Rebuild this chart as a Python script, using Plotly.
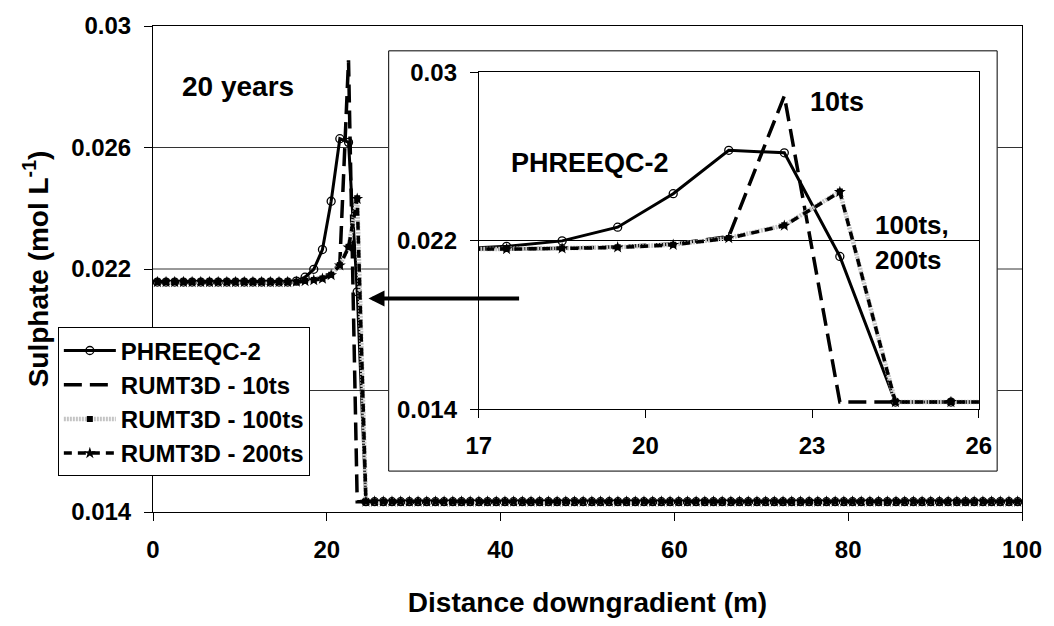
import plotly.graph_objects as go

# ---------------- data ----------------
distance = [
    0.5, 1.5, 2.5, 3.5, 4.5, 5.5, 6.5, 7.5, 8.5, 9.5,
    10.5, 11.5, 12.5, 13.5, 14.5, 15.5, 16.5, 17.5, 18.5, 19.5,
    20.5, 21.5, 22.5, 23.5, 24.5, 25.5, 26.5, 27.5, 28.5, 29.5,
    30.5, 31.5, 32.5, 33.5, 34.5, 35.5, 36.5, 37.5, 38.5, 39.5,
    40.5, 41.5, 42.5, 43.5, 44.5, 45.5, 46.5, 47.5, 48.5, 49.5,
    50.5, 51.5, 52.5, 53.5, 54.5, 55.5, 56.5, 57.5, 58.5, 59.5,
    60.5, 61.5, 62.5, 63.5, 64.5, 65.5, 66.5, 67.5, 68.5, 69.5,
    70.5, 71.5, 72.5, 73.5, 74.5, 75.5, 76.5, 77.5, 78.5, 79.5,
    80.5, 81.5, 82.5, 83.5, 84.5, 85.5, 86.5, 87.5, 88.5, 89.5,
    90.5, 91.5, 92.5, 93.5, 94.5, 95.5, 96.5, 97.5, 98.5, 99.5,
]

phreeqc_2 = [
    0.02157, 0.02157, 0.02157, 0.02157, 0.02157, 0.02157, 0.02157, 0.02157, 0.02157, 0.02157,
    0.02157, 0.02157, 0.02157, 0.02157, 0.02157, 0.02157, 0.02160, 0.02173, 0.02199, 0.02264,
    0.02423, 0.02629, 0.02617, 0.02125, 0.01434, 0.01434, 0.01434, 0.01434, 0.01434, 0.01434,
    0.01434, 0.01434, 0.01434, 0.01434, 0.01434, 0.01434, 0.01434, 0.01434, 0.01434, 0.01434,
    0.01434, 0.01434, 0.01434, 0.01434, 0.01434, 0.01434, 0.01434, 0.01434, 0.01434, 0.01434,
    0.01434, 0.01434, 0.01434, 0.01434, 0.01434, 0.01434, 0.01434, 0.01434, 0.01434, 0.01434,
    0.01434, 0.01434, 0.01434, 0.01434, 0.01434, 0.01434, 0.01434, 0.01434, 0.01434, 0.01434,
    0.01434, 0.01434, 0.01434, 0.01434, 0.01434, 0.01434, 0.01434, 0.01434, 0.01434, 0.01434,
    0.01434, 0.01434, 0.01434, 0.01434, 0.01434, 0.01434, 0.01434, 0.01434, 0.01434, 0.01434,
    0.01434, 0.01434, 0.01434, 0.01434, 0.01434, 0.01434, 0.01434, 0.01434, 0.01434, 0.01434,
]

rumt3d_10ts = [
    0.02157, 0.02157, 0.02157, 0.02157, 0.02157, 0.02157, 0.02157, 0.02157, 0.02157, 0.02157,
    0.02157, 0.02157, 0.02157, 0.02157, 0.02157, 0.02157, 0.02158, 0.02160, 0.02164, 0.02171,
    0.02184, 0.02219, 0.02887, 0.01434, 0.01434, 0.01434, 0.01434, 0.01434, 0.01434, 0.01434,
    0.01434, 0.01434, 0.01434, 0.01434, 0.01434, 0.01434, 0.01434, 0.01434, 0.01434, 0.01434,
    0.01434, 0.01434, 0.01434, 0.01434, 0.01434, 0.01434, 0.01434, 0.01434, 0.01434, 0.01434,
    0.01434, 0.01434, 0.01434, 0.01434, 0.01434, 0.01434, 0.01434, 0.01434, 0.01434, 0.01434,
    0.01434, 0.01434, 0.01434, 0.01434, 0.01434, 0.01434, 0.01434, 0.01434, 0.01434, 0.01434,
    0.01434, 0.01434, 0.01434, 0.01434, 0.01434, 0.01434, 0.01434, 0.01434, 0.01434, 0.01434,
    0.01434, 0.01434, 0.01434, 0.01434, 0.01434, 0.01434, 0.01434, 0.01434, 0.01434, 0.01434,
    0.01434, 0.01434, 0.01434, 0.01434, 0.01434, 0.01434, 0.01434, 0.01434, 0.01434, 0.01434,
]

rumt3d_100ts = [
    0.02157, 0.02157, 0.02157, 0.02157, 0.02157, 0.02157, 0.02157, 0.02157, 0.02157, 0.02157,
    0.02157, 0.02157, 0.02157, 0.02157, 0.02157, 0.02157, 0.02158, 0.02161, 0.02164, 0.02169,
    0.02181, 0.02213, 0.02273, 0.02433, 0.01434, 0.01434, 0.01434, 0.01434, 0.01434, 0.01434,
    0.01434, 0.01434, 0.01434, 0.01434, 0.01434, 0.01434, 0.01434, 0.01434, 0.01434, 0.01434,
    0.01434, 0.01434, 0.01434, 0.01434, 0.01434, 0.01434, 0.01434, 0.01434, 0.01434, 0.01434,
    0.01434, 0.01434, 0.01434, 0.01434, 0.01434, 0.01434, 0.01434, 0.01434, 0.01434, 0.01434,
    0.01434, 0.01434, 0.01434, 0.01434, 0.01434, 0.01434, 0.01434, 0.01434, 0.01434, 0.01434,
    0.01434, 0.01434, 0.01434, 0.01434, 0.01434, 0.01434, 0.01434, 0.01434, 0.01434, 0.01434,
    0.01434, 0.01434, 0.01434, 0.01434, 0.01434, 0.01434, 0.01434, 0.01434, 0.01434, 0.01434,
    0.01434, 0.01434, 0.01434, 0.01434, 0.01434, 0.01434, 0.01434, 0.01434, 0.01434, 0.01434,
]

rumt3d_200ts = [
    0.02157, 0.02157, 0.02157, 0.02157, 0.02157, 0.02157, 0.02157, 0.02157, 0.02157, 0.02157,
    0.02157, 0.02157, 0.02157, 0.02157, 0.02157, 0.02157, 0.02158, 0.02160, 0.02163, 0.02168,
    0.02180, 0.02212, 0.02271, 0.02431, 0.01434, 0.01434, 0.01434, 0.01434, 0.01434, 0.01434,
    0.01434, 0.01434, 0.01434, 0.01434, 0.01434, 0.01434, 0.01434, 0.01434, 0.01434, 0.01434,
    0.01434, 0.01434, 0.01434, 0.01434, 0.01434, 0.01434, 0.01434, 0.01434, 0.01434, 0.01434,
    0.01434, 0.01434, 0.01434, 0.01434, 0.01434, 0.01434, 0.01434, 0.01434, 0.01434, 0.01434,
    0.01434, 0.01434, 0.01434, 0.01434, 0.01434, 0.01434, 0.01434, 0.01434, 0.01434, 0.01434,
    0.01434, 0.01434, 0.01434, 0.01434, 0.01434, 0.01434, 0.01434, 0.01434, 0.01434, 0.01434,
    0.01434, 0.01434, 0.01434, 0.01434, 0.01434, 0.01434, 0.01434, 0.01434, 0.01434, 0.01434,
    0.01434, 0.01434, 0.01434, 0.01434, 0.01434, 0.01434, 0.01434, 0.01434, 0.01434, 0.01434,
]

series_names = ["PHREEQC-2", "RUMT3D - 10ts", "RUMT3D - 100ts", "RUMT3D - 200ts"]

main_x_ticks = [0, 20, 40, 60, 80, 100]
main_y_ticks = [0.014, 0.022, 0.026, 0.03]          # 0.018 label sits under the legend
main_grid_values = [0.018, 0.022, 0.026]
inset_x_ticks = [17, 20, 23, 26]
inset_y_ticks = [0.014, 0.022, 0.03]

# ---------------- styling ----------------
FONT = "Liberation Sans, Arial, Helvetica, sans-serif"
styles = [
    dict(line=dict(color="black", width=3),
         marker=dict(symbol="circle-open", size=8, color="black", line=dict(width=1.3, color="black"))),
    dict(line=dict(color="black", width=3.5, dash="18px,8px"),
         marker=dict(size=1, opacity=0)),
    dict(line=dict(color="#c4c4c4", width=4.5, dash="2px,1px"),
         marker=dict(symbol="square", size=6, color="black")),
    dict(line=dict(color="black", width=3.5, dash="8px,6px"),
         marker=dict(symbol="star", size=9, color="black")),
]
modes = ["lines+markers", "lines", "lines+markers", "lines+markers"]
data_series = [phreeqc_2, rumt3d_10ts, rumt3d_100ts, rumt3d_200ts]

fig = go.Figure()
for name, ys, st, md in zip(series_names, data_series, styles, modes):
    fig.add_trace(go.Scatter(x=distance, y=ys, name=name, mode=md,
                             line=st["line"], marker=st["marker"],
                             xaxis="x", yaxis="y", hoverinfo="skip"))
for name, ys, st, md in zip(series_names, data_series, styles, modes):
    fig.add_trace(go.Scatter(x=distance, y=ys, name=name, mode=md,
                             line=st["line"], marker=st["marker"], showlegend=False,
                             xaxis="x2", yaxis="y2", hoverinfo="skip"))

axis_common = dict(showline=True, linecolor="black", linewidth=1, mirror=True,
                   ticks="outside", ticklen=8, tickwidth=1, tickcolor="black",
                   zeroline=False, tickfont=dict(family=FONT, size=24, color="black", weight="bold"))

# inset frame (paper coords)
box_x0, box_x1, box_y0, box_y1 = 0.2712, 0.9714, 0.0842, 0.9489

shapes = [dict(type="rect", xref="paper", yref="paper", x0=box_x0, x1=box_x1,
               y0=box_y0, y1=box_y1, line=dict(color="black", width=1),
               fillcolor="rgba(0,0,0,0)", layer="below")]
for gy in main_grid_values:
    for (a, b) in [(0, box_x0), (box_x1, 1)]:
        shapes.append(dict(type="line", xref="paper", yref="y", x0=a, x1=b, y0=gy, y1=gy,
                           line=dict(color="#333333", width=1), layer="below"))

annotations = [
    dict(x=24.8, y=0.02103, ax=42.3, ay=0.02103, xref="x", yref="y", axref="x", ayref="y",
         text="", showarrow=True, arrowhead=2, arrowsize=0.8, arrowwidth=4, arrowcolor="black"),
    dict(x=3.15, y=0.02801, xref="x", yref="y", text="20 years", showarrow=False,
         xanchor="left", yanchor="middle", font=dict(family=FONT, size=28, color="black", weight="bold")),
    dict(x=17.54, y=0.02568, xref="x2", yref="y2", text="PHREEQC-2", showarrow=False,
         xanchor="left", yanchor="middle", font=dict(family=FONT, size=27, color="black", weight="bold")),
    dict(x=22.92, y=0.02856, xref="x2", yref="y2", text="10ts", showarrow=False,
         xanchor="left", yanchor="middle", font=dict(family=FONT, size=27, color="black", weight="bold")),
    dict(x=24.09, y=0.02276, xref="x2", yref="y2", text="100ts,", showarrow=False,
         xanchor="left", yanchor="middle", font=dict(family=FONT, size=26, color="black", weight="bold")),
    dict(x=24.09, y=0.0211, xref="x2", yref="y2", text="200ts", showarrow=False,
         xanchor="left", yanchor="middle", font=dict(family=FONT, size=26, color="black", weight="bold")),
]

fig.update_layout(
    width=1054, height=626,
    margin=dict(l=153, r=27, t=17, b=114),
    paper_bgcolor="white", plot_bgcolor="white",
    font=dict(family=FONT, color="black", weight="bold"),
    showlegend=True,
    legend=dict(x=-0.1095, y=0.3798, xanchor="left", yanchor="top",
                bgcolor="white", bordercolor="black", borderwidth=1, itemwidth=52,
                font=dict(family=FONT, size=24, color="black", weight="bold")),
    xaxis=dict(domain=[0, 1], range=[0, 100], tickvals=main_x_ticks, showgrid=False,
               ticklabelstandoff=8,
               title=dict(text="Distance downgradient (m)", standoff=30,
                          font=dict(family=FONT, size=28, color="black", weight="bold")),
               **axis_common),
    yaxis=dict(domain=[0, 1], range=[0.014, 0.03], tickvals=main_y_ticks, showgrid=False,
               ticklabelstandoff=8,
               title=dict(text="Sulphate (mol L<sup>-1</sup>)", standoff=14,
                          font=dict(family=FONT, size=28, color="black", weight="bold")),
               **axis_common),
    xaxis2=dict(domain=[0.3749, 0.9502], anchor="y2", range=[17, 26], tickvals=inset_x_ticks,
                showgrid=False, ticklabelstandoff=7, **axis_common),
    yaxis2=dict(domain=[0.2115, 0.9051], anchor="x2", range=[0.014, 0.03], tickvals=inset_y_ticks,
                showgrid=True, gridcolor="black", gridwidth=1, ticklabelstandoff=8, **axis_common),
    shapes=shapes,
    annotations=annotations,
)

fig.write_html("out.html")
